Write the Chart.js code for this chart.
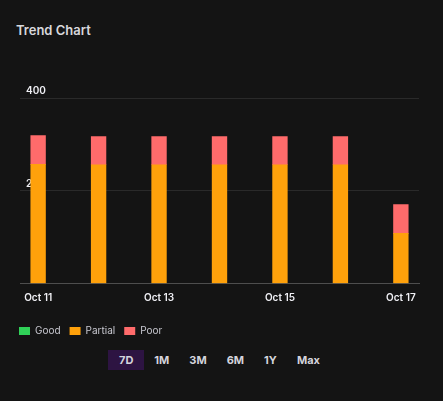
<!DOCTYPE html>
<html>
<head>
<meta charset="utf-8">
<script src="https://cdn.jsdelivr.net/npm/chart.js@4"></script>
<style>
  html, body { margin:0; padding:0; background:#141414; width:443px; height:401px; overflow:hidden; font-family: Inter, "Noto Sans", sans-serif; }
  #title { position:absolute; left:16px; top:22px; font-size:13px; font-weight:600; color:#d8d8dc; }
  #wrap { position:absolute; left:0; top:0; width:443px; height:347px; }
  #ranges { position:absolute; left:108px; top:350px; display:flex; }
  #ranges span { display:block; height:20px; line-height:20px; padding:0 10px; font-size:11px; font-weight:700; color:#d4d4dc; }
  #ranges span.on { background:#2d1442; padding:0 11px; }
</style>
</head>
<body>
<div id="title">Trend Chart</div>
<div id="wrap"><canvas id="c"></canvas></div>
<div id="ranges"></div>
<script>
const dates = ["Oct 11","Oct 12","Oct 13","Oct 14","Oct 15","Oct 16","Oct 17"];
const good = [0,0,0,0,0,0,0];
const partial = [257,256,256,256,256,256,108];
const poor = [62,61,61,61,61,61,62];
const yTicks = [0,200,400];
const xTickIdx = [0,2,4,6];
const ranges = ["7D","1M","3M","6M","1Y","Max"];

const r = document.getElementById('ranges');
ranges.forEach((t,i)=>{ const s=document.createElement('span'); s.textContent=t; if(i===0) s.className='on'; r.appendChild(s); });

const pts = arr => arr.map((v,i)=>({x:i, y:v}));

new Chart(document.getElementById('c'), {
  type: 'bar',
  data: {
    datasets: [
      { label:'Good', data: pts(good), backgroundColor:'#30d158', barThickness:14.7, inflateAmount:0 },
      { label:'Partial', data: pts(partial), backgroundColor:'#ffa10b', barThickness:14.7 },
      { label:'Poor', data: pts(poor), backgroundColor:'#ff6b6b', barThickness:14.7 }
    ]
  },
  options: {
    responsive:true, maintainAspectRatio:false, animation:false,
    layout:{ padding:{ left:10, right:24, top:98, bottom:1 } },
    plugins:{
      legend:{ position:'bottom', align:'start',
        labels:{ boxWidth:11, boxHeight:8, padding:9, color:'#c8c8d0', font:{ family:'Inter', size:10 } } },
      tooltip:{ enabled:false }
    },
    scales:{
      x:{ type:'linear', stacked:true, min:-0.3, max:6.3, offset:false,
        afterBuildTicks: s => { s.ticks = xTickIdx.map(v=>({value:v})); },
        afterFit: s => { s.height += 5.5; },
        grid:{ display:false, drawTicks:false },
        border:{ display:true, color:'#4e4e4e', width:1 },
        ticks:{ color:'#f0f0f5', padding:8, maxRotation:0, autoSkip:false, font:{ family:'Inter', size:10, weight:'600' },
          callback: v => dates[v] ?? '' } },
      y:{ stacked:true, min:0, max:400,
        afterBuildTicks: s => { s.ticks = yTicks.map(v=>({value:v})); },
        afterFit: s => { s.width = 10; },
        grid:{ color:'#2a2a2a', drawTicks:false },
        border:{ display:false },
        ticks:{ mirror:true, padding:6, labelOffset:-7, color:'#f0f0f5', font:{ family:'Inter', size:10, weight:'600' },
          callback: v => v === 0 ? '' : String(v) } }
    }
  }
});
</script>
</body>
</html>
